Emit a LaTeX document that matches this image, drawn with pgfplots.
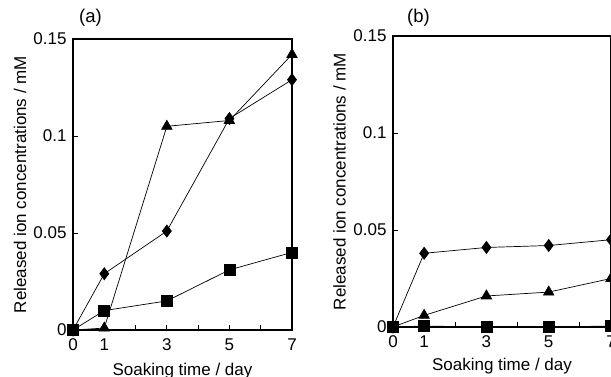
\documentclass[border=0pt]{standalone}
\usepackage{fontspec}
\setmainfont{Liberation Sans}
\usepackage{pgfplots}
\pgfplotsset{compat=1.18}
\newcommand\ff{\fontsize{17}{20}\selectfont}
\newcommand\ft{\fontsize{18.5}{22}\selectfont}
\begin{document}
\begin{tikzpicture}[x=1pt,y=1pt]
\useasboundingbox (0,0) rectangle (611,376);
\pgfplotsset{myax/.style={
  scale only axis, width=219pt, height=291pt,
  xmin=0, xmax=7, ymin=0, ymax=0.15,
  xtick={0,1,2,3,4,5,6,7}, xticklabels={0,1,,3,,5,,7},
  ytick={0,0.05,0.1,0.15}, yticklabels={0,0.05,0.1,0.15},
  scaled y ticks=false,
  tick align=inside, xtick pos=bottom, ytick pos=left,
  major tick length=5pt,
  axis line style={line width=1.3pt},
  every tick/.style={line width=1pt, black},
  /pgf/number format/assume math mode=true,
  tick label style={font=\ff},
  label style={font=\ff},
  title style={font=\ft},
  xticklabel style={yshift=-5pt},
  yticklabel style={xshift=-3pt},
  xlabel={Soaking time / day},
  ylabel={Released ion concentrations / mM},
  xlabel style={at={(axis description cs:0.5,0)}, anchor=base, yshift=-45pt},
  clip=false,
  every axis plot/.append style={black, line width=0.7pt, mark options={solid, fill=black}},
}}
\begin{axis}[myax, at={(73pt,46pt)}, anchor=south west,
  ylabel style={at={(axis description cs:-0.242,0.5)}, anchor=center},
  title={(a)}, title style={at={(axis description cs:0.027,1)}, anchor=south west, inner sep=0pt, yshift=6pt}]
\addplot[mark=triangle*, mark size=6pt] coordinates {(0,0) (1,0.001) (3,0.105) (5,0.108) (7,0.142)};
\addplot[mark=diamond*, mark size=6pt] coordinates {(0,0) (1,0.029) (3,0.051) (5,0.109) (7,0.129)};
\addplot[mark=square*, mark size=5.5pt] coordinates {(0,0) (1,0.010) (3,0.015) (5,0.031) (7,0.040)};
\end{axis}
\begin{axis}[myax, at={(393pt,49pt)}, anchor=south west, width=218pt,
  ylabel style={at={(axis description cs:-0.245,0.5)}, anchor=center},
  xlabel style={yshift=2pt},
  title={(b)}, title style={at={(axis description cs:0.064,1)}, anchor=south west, inner sep=0pt, yshift=3pt}]
\addplot[mark=diamond*, mark size=6pt] coordinates {(0,0) (1,0.038) (3,0.041) (5,0.042) (7,0.045)};
\addplot[mark=triangle*, mark size=6pt] coordinates {(0,0) (1,0.006) (3,0.016) (5,0.018) (7,0.025)};
\addplot[mark=square*, mark size=5.5pt] coordinates {(0,0) (1,0.0005) (3,0) (5,0) (7,0.0005)};
\end{axis}
\end{tikzpicture}
\end{document}
